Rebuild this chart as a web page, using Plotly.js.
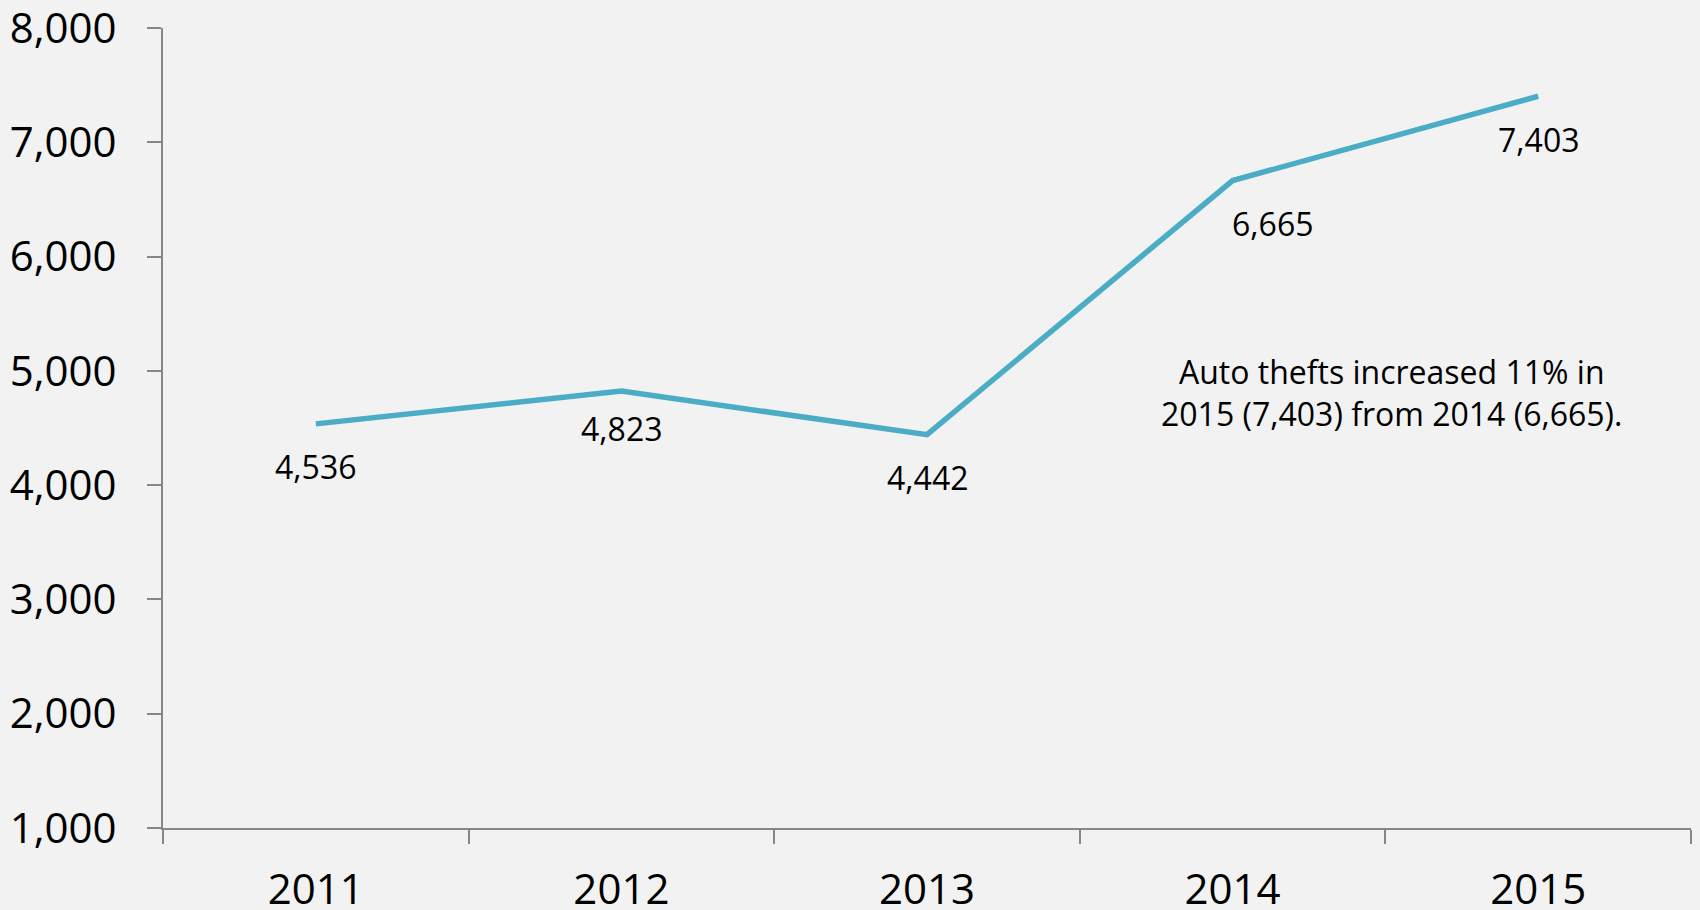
<!DOCTYPE html>
<html>
<head>
<meta charset="utf-8">
<script src="https://cdn.plot.ly/plotly-3.0.1.min.js"></script>
<style>html,body{margin:0;padding:0;background:#f2f2f2;}#chart{width:1700px;height:910px;}</style>
</head>
<body>
<div id="chart"></div>
<script>
const years = ['2011', '2012', '2013', '2014', '2015'];
const autoThefts = [4536, 4823, 4442, 6665, 7403];
const yTickValues = [1000, 2000, 3000, 4000, 5000, 6000, 7000, 8000];
const noteText = 'Auto thefts increased 11% in<br>2015 (7,403) from 2014 (6,665).';

const FONT = '"Open Sans", "Noto Sans", sans-serif';

const trace = {
  type: 'scatter',
  mode: 'lines',
  x: years,
  y: autoThefts,
  line: {color: '#4bacc6', width: 5.5},
  hoverinfo: 'skip'
};

const labelXShift = {3: 40};
const labelYShift = {1: -37};
const annotations = autoThefts.map((v, i) => ({
  x: i,
  y: v,
  xref: 'x',
  yref: 'y',
  text: v.toLocaleString('en-US'),
  showarrow: false,
  xshift: labelXShift[i] || 0,
  yshift: labelYShift[i] || -43,
  font: {family: FONT, size: 32, color: '#000000'}
}));
annotations.push({
  x: 3.52,
  y: 4815,
  xref: 'x',
  yref: 'y',
  text: noteText,
  showarrow: false,
  align: 'center',
  font: {family: FONT, size: 32, color: '#000000'}
});

const layout = {
  width: 1700,
  height: 910,
  margin: {l: 163, r: 9, t: 28, b: 82, pad: 0},
  paper_bgcolor: '#f2f2f2',
  plot_bgcolor: '#f2f2f2',
  showlegend: false,
  font: {family: FONT, color: '#000000'},
  xaxis: {
    type: 'category',
    categoryorder: 'array',
    categoryarray: years,
    range: [-0.5, 4.5],
    tickson: 'boundaries',
    ticks: 'outside',
    ticklen: 14,
    tickwidth: 2,
    tickcolor: '#868686',
    showline: true,
    linecolor: '#868686',
    linewidth: 2,
    showgrid: false,
    zeroline: false,
    ticklabelstandoff: 24,
    ticklabeloverflow: 'allow',
    tickfont: {family: FONT, size: 42, color: '#000000'}
  },
  yaxis: {
    range: [1000, 8000],
    tickvals: yTickValues,
    ticktext: yTickValues.map(v => v.toLocaleString('en-US')),
    ticks: 'outside',
    ticklen: 14,
    tickwidth: 2,
    tickcolor: '#868686',
    showline: true,
    linecolor: '#868686',
    linewidth: 2,
    showgrid: false,
    zeroline: false,
    ticklabelstandoff: 22,
    ticklabeloverflow: 'allow',
    tickfont: {family: FONT, size: 42, color: '#000000'}
  },
  annotations: annotations
};

Plotly.newPlot('chart', [trace], layout, {displayModeBar: false, staticPlot: true});
</script>
</body>
</html>
